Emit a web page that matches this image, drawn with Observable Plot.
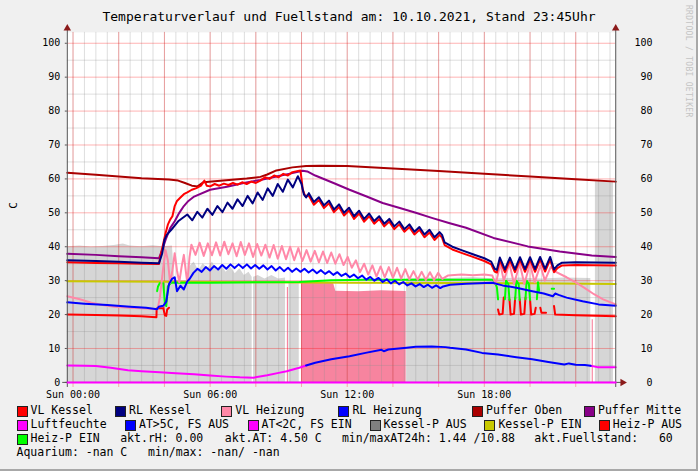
<!DOCTYPE html>
<html><head><meta charset="utf-8">
<script src="https://cdn.jsdelivr.net/npm/d3@7"></script>
<script src="https://cdn.jsdelivr.net/npm/@observablehq/plot@0.6"></script>
<style>
body{margin:0;background:#fff}
#wrap{position:relative;width:698px;height:471px;background:#f0f0f0;font-family:"DejaVu Sans Mono",monospace;color:#000;overflow:hidden;box-sizing:border-box;border-right:2px solid #a8a8a8;border-bottom:2px solid #a8a8a8}
#chart{position:absolute;left:0;top:0}
.t{position:absolute;white-space:pre;line-height:1}
#title{left:0;width:698px;top:10px;text-align:center;font-size:13px}
#ylab{left:10px;top:200px;font-size:11px;transform:rotate(-90deg);transform-origin:center}
#rrd{left:684px;top:5px;font-size:8px;color:#c4c4c4;writing-mode:vertical-rl;letter-spacing:0.3px}
.lg{font-size:11.5px}
.box{position:absolute;width:9px;height:9px;border:1px solid #222;box-sizing:content-box}
</style></head>
<body>
<div id="wrap">
<div id="chart"></div>
<div class="t" id="title">Temperaturverlauf und Fuellstand am: 10.10.2021, Stand 23:45Uhr</div>
<div class="t" id="ylab">C</div>
<div class="t" id="rrd">RRDTOOL / TOBI OETIKER</div>
<div id="legend"></div>
</div>
<script>
// ---- data: [hour, value] ; hours relative to Sun 00:00 ----
const pufferOben = [[-0.25,61.8],[1,61.2],[2,60.7],[3,60.2],[4.2,59.8],[4.6,59.5],[4.9,58.8],[5.2,58.0],[5.45,57.8],[5.7,59.0],[6.7,59.6],[7.6,60.1],[8.2,60.6],[8.5,61.3],[8.9,62.5],[9.6,63.4],[10.2,63.8],[10.8,63.9],[12,63.8],[14,63.1],[16,62.3],[18,61.5],[20,60.7],[22,59.9],[23.75,59.2]];
const pufferMitte = [[-0.25,37.9],[1,37.6],[2,37.2],[3,36.9],[3.76,36.6],[3.9,39],[4.05,42],[4.25,45.5],[4.45,47.5],[4.65,50],[4.85,52],[5.05,53.5],[5.3,54.8],[6.0,56.8],[6.74,57.7],[7.47,58.8],[8.2,59.7],[8.9,60.7],[9.6,61.7],[10.05,62.4],[10.25,62.2],[10.6,61],[11.4,58.8],[12.1,56.8],[12.85,54.8],[13.55,52.9],[14.3,51.4],[15.0,50.0],[15.7,48.5],[16.45,47],[17.2,45.6],[18.4,42.6],[19.9,40.1],[21.3,38.6],[22.7,37.4],[23.75,37.0]];
const vlKessel = [[-0.25,35.4],[1,35.2],[2,35.1],[3,35.0],[3.76,34.9],[3.85,38],[3.95,41],[4.05,44],[4.15,46.5],[4.25,48],[4.35,49],[4.45,52],[4.55,53.5],[4.7,54.5],[4.85,55.5],[5.0,56],[5.2,56.8],[5.4,57.3],[5.6,58],[5.75,59.5],[5.85,58],[6.0,57.8],[6.2,58.5],[6.4,58],[6.6,58.6],[6.8,58.2],[7.0,58.8],[7.2,58.3],[7.4,59.0],[7.6,58.5],[7.8,59.2],[8.0,58.8],[8.2,59.5],[8.4,60.5],[8.6,60],[8.8,61],[9.0,60.5],[9.2,61.5],[9.4,61],[9.6,62],[9.8,62.3],[9.95,62.5],[10.0,60],[10.05,57],[10.15,55.0],[10.32,55.0],[10.54,52.4],[10.76,53.8],[10.98,51.4],[11.2,52.8],[11.42,50.2],[11.64,51.7],[11.86,49.2],[12.08,50.7],[12.3,48.2],[12.52,49.8],[12.74,47.4],[12.96,49.0],[13.18,46.8],[13.4,48.2],[13.62,46.0],[13.84,47.4],[14.06,45.2],[14.28,46.6],[14.5,44.4],[14.72,45.8],[14.94,43.6],[15.16,45.0],[15.38,42.8],[15.6,44.2],[15.82,42.0],[16.04,43.5],[16.15,42.7],[16.26,40.5],[16.6,39.2],[17.0,38.2],[17.5,37.0],[18.0,35.8],[18.3,34.8],[18.45,32.7],[18.55,32.4],[18.68,36.0],[18.9,32.5],[19.12,36.0],[19.34,32.5],[19.56,36.1],[19.78,32.6],[20.0,36.1],[20.22,32.6],[20.44,36.2],[20.66,32.7],[20.88,36.2],[21.05,32.5],[21.2,33.7],[21.4,34.5],[22,34.6],[23.75,34.5]];
const rlKessel = [[-0.25,36.0],[1,35.8],[2,35.6],[3,35.3],[3.76,35.1],[3.9,38],[4.0,42],[4.1,43.5],[4.3,45],[4.6,47.5],[5.0,49.5],[5.22,47.8],[5.44,50.3],[5.66,48.6],[5.88,51.2],[6.1,49.4],[6.32,52.0],[6.54,50.2],[6.76,53.0],[6.98,51.2],[7.2,54.0],[7.42,52.0],[7.64,55.0],[7.86,52.8],[8.08,56.0],[8.3,53.8],[8.52,57.2],[8.74,55.0],[8.96,58.5],[9.18,56.2],[9.4,59.8],[9.62,57.5],[9.84,60.8],[10.0,58.5],[10.1,55.5],[10.2,54.5],[10.32,55.8],[10.54,53.2],[10.76,54.6],[10.98,52.2],[11.2,53.6],[11.42,51.0],[11.64,52.5],[11.86,50.0],[12.08,51.5],[12.3,49.0],[12.52,50.6],[12.74,48.2],[12.96,49.8],[13.18,47.6],[13.4,49.0],[13.62,46.8],[13.84,48.2],[14.06,46.0],[14.28,47.4],[14.5,45.2],[14.72,46.6],[14.94,44.4],[15.16,45.8],[15.38,43.6],[15.6,45.0],[15.82,42.8],[16.04,44.3],[16.15,43.5],[16.26,41.3],[16.6,40.0],[17.0,39.0],[17.5,37.8],[18.0,36.6],[18.3,35.6],[18.45,33.5],[18.55,33.2],[18.68,36.8],[18.9,33.3],[19.12,36.8],[19.34,33.3],[19.56,36.9],[19.78,33.4],[20.0,36.9],[20.22,33.4],[20.44,37.0],[20.66,33.5],[20.88,37.0],[21.05,33.3],[21.2,34.5],[21.4,35.3],[22,35.4],[23.75,35.3]];
const vlHeizung = [[-0.25,25.4],[0.3,24.5],[0.8,23.5],[1.3,22.8],[1.8,22.3],[2.5,22.0],[3.2,21.8],[3.7,21.6],[3.8,25],[3.95,34],[4.05,39],[4.15,36],[4.25,29.3],[4.35,33],[4.45,38.1],[4.55,33],[4.65,29.5],[4.75,34],[4.85,37.6],[4.95,32],[5.0,29.5],[5.1,37],[5.18,40.6],[5.36,37.6],[5.54,41.2],[5.72,37.3],[5.9,41.0],[6.08,37.5],[6.26,41.3],[6.44,37.4],[6.62,41.5],[6.8,37.8],[6.98,41.0],[7.16,37.2],[7.34,41.4],[7.52,37.6],[7.7,41.0],[7.88,37.0],[8.06,40.8],[8.24,37.4],[8.42,40.6],[8.6,36.8],[8.78,40.5],[8.96,36.5],[9.14,40.2],[9.32,36.3],[9.5,40.0],[9.68,36.0],[9.86,39.6],[10.04,35.8],[10.22,39.0],[10.4,35.6],[10.58,38.8],[10.76,35.4],[10.94,38.6],[11.12,35.2],[11.3,38.3],[11.48,35.0],[11.66,37.8],[11.84,34.6],[12.02,37.0],[12.2,33.8],[12.38,36.0],[12.56,32.5],[12.74,35.0],[12.92,31.8],[13.1,34.5],[13.28,31.2],[13.46,34.2],[13.64,31.0],[13.82,34.0],[14.0,30.8],[14.18,33.8],[14.36,30.6],[14.54,33.4],[14.72,30.4],[14.9,32.8],[15.08,30.3],[15.26,32.6],[15.44,30.2],[15.62,32.5],[15.8,30.2],[15.98,32.3],[16.16,30.5],[16.4,31.5],[17.0,31.8],[17.5,31.6],[18.0,31.8],[18.35,31.5],[18.5,29],[18.7,35],[18.85,30],[19.1,35],[19.3,29],[19.55,35],[19.75,29],[20.0,35],[20.2,29.5],[20.45,34.5],[20.65,30],[20.9,34],[21.15,32.5],[21.6,31],[22.0,29.5],[22.4,27.8],[22.8,26],[23.2,24.5],[23.75,23.0]];
const rlHeizung = [[-0.25,23.6],[0.5,23.2],[1.5,22.8],[2.5,22.3],[3.2,22.0],[3.68,21.6],[3.75,22.3],[3.95,22.6],[4.08,23.8],[4.2,29],[4.33,30.5],[4.45,31],[4.55,26.9],[4.7,28.5],[4.85,27.4],[5.0,29.8],[5.1,30.5],[5.27,32.3],[5.45,33.5],[5.63,32.6],[5.81,34.0],[5.99,33.0],[6.17,34.3],[6.35,33.3],[6.53,34.6],[6.71,33.5],[6.89,34.8],[7.07,33.7],[7.25,34.8],[7.43,33.7],[7.61,34.8],[7.79,33.6],[7.97,34.6],[8.15,33.5],[8.33,34.5],[8.51,33.3],[8.69,34.3],[8.87,33.0],[9.05,34.0],[9.23,32.8],[9.41,33.8],[9.59,32.6],[9.77,33.6],[9.95,32.6],[10.13,33.5],[10.31,32.4],[10.49,33.3],[10.67,32.2],[10.85,33.1],[11.03,32.0],[11.21,32.8],[11.39,31.7],[11.57,32.5],[11.75,31.4],[11.93,32.1],[12.11,31.0],[12.29,31.8],[12.47,30.7],[12.65,31.5],[12.83,30.3],[13.01,31.1],[13.19,30.0],[13.37,30.8],[13.55,29.6],[13.73,30.4],[13.91,29.2],[14.09,30.0],[14.27,28.9],[14.45,29.6],[14.63,28.6],[14.81,29.2],[14.99,28.3],[15.17,29.0],[15.35,28.1],[15.53,28.8],[15.71,27.9],[15.89,28.6],[16.07,27.8],[16.2,28.3],[16.5,28.8],[17.2,29.1],[18.35,29.4],[18.8,28.6],[19.4,27.9],[20.1,26.9],[20.6,26.2],[21.0,25.4],[21.1,26.2],[21.25,25.8],[21.6,25.0],[22.3,23.9],[23.0,23.0],[23.75,22.6]];
const kesselPEin = [[-0.25,29.8],[4,29.7],[8,29.5],[12,29.4],[16,29.3],[20,29.2],[23.75,29.0]];
const heizPEin = [[3.68,26.9],[3.72,28.3],[3.8,29.3],[3.95,29.2],[4.02,23.4],[4.08,22.5],[4.15,28.3],[4.3,29.4],[6,29.4],[9.9,29.6],[11.3,30.1],[12.8,30.3],[18.35,30.3],[18.45,29.8],[18.55,28],[18.6,24.5],[18.61,null],[18.9,24.5],[18.95,30],[19.05,29],[19.1,24.3],[19.11,null],[19.35,24.5],[19.4,30],[19.5,29],[19.55,24.3],[19.56,null],[19.8,24.5],[19.85,30],[19.95,29],[20.0,24.3],[20.01,null],[20.3,24.5],[20.35,29.5],[20.4,27],[20.41,null],[20.95,27.6],[21.05,27.6]];
const heizPAus = [[-0.25,20.0],[1,19.9],[2,19.7],[3,19.5],[3.65,19.2],[3.66,21.8],[3.95,21.9],[4.02,19.8],[4.08,19.6],[4.12,21.5],[4.2,22],[4.21,null],[18.6,21.5],[18.65,20],[18.8,20.2],[18.85,25],[18.86,null],[19.1,24.5],[19.15,20],[19.3,20.2],[19.35,25],[19.36,null],[19.55,24.5],[19.6,20],[19.75,20.2],[19.8,25],[19.81,null],[20.0,24.5],[20.05,20],[20.2,20.2],[20.25,22],[20.26,null],[20.45,22],[20.5,20.5],[20.7,20.5],[20.71,null],[21.05,22.5],[21.1,20],[22,19.8],[23.75,19.5]];
const atWarm = [[10.2,5.0],[10.6,5.8],[11.3,6.8],[12.1,7.7],[12.8,8.7],[13.5,9.6],[13.6,9.2],[13.8,9.7],[14.6,10.2],[15.0,10.5],[15.7,10.6],[16.3,10.4],[16.5,10.2],[17.2,9.7],[17.9,8.7],[18.6,8.2],[19.4,7.4],[20.1,6.8],[20.8,6.0],[21.5,5.3],[21.7,5.6],[22.0,5.2],[22.4,5.1],[22.65,4.9]];
const atCold = [[-0.25,5.0],[0.5,4.9],[1.0,4.8],[1.65,4.3],[2.4,3.6],[3.0,3.3],[3.8,3.0],[4.5,2.7],[5.3,2.4],[6.0,2.0],[6.7,1.7],[7.3,1.5],[7.9,1.4],[8.5,2.1],[9.0,2.8],[9.35,3.3],[9.9,4.3],[10.2,5.0],[10.21,null],[22.65,4.9],[22.95,4.5],[23.75,4.5]];
const luftfeuchte = [[-0.25,0],[23.75,0]];
const fuellGrau = [[-0.25,40.0],[0.3,40.2],[0.8,39.9],[1.3,40.1],[1.8,40.4],[2.2,40.8],[2.5,40.2],[3.0,40.0],[3.5,40.3],[3.9,40.0],[4.35,40.2],[4.45,30],[5.05,30],[5.1,34],[5.3,35.5],[5.5,33],[5.7,35],[5.9,33.5],[6.1,35.5],[6.3,33],[6.5,34.5],[6.7,32.5],[6.9,34],[7.1,32],[7.3,33.5],[7.5,31.5],[7.7,32.5],[7.84,31],[7.85,null],[7.9,31],[8.1,31.5],[8.4,30.5],[8.7,31.5],[9.0,30.5],[9.3,30.8],[9.34,null],[9.45,29.4],[9.9,29.4],[9.92,null],[14.6,30.5],[15.5,30.8],[16.5,30.6],[17.5,30.9],[18.5,30.5],[19.5,30.8],[20.5,30.5],[21.5,30.8],[22.66,30.6],[22.67,null],[22.86,59.2],[23.65,59.2],[23.66,null]];
const fuellRosa = [[9.37,null],[9.38,28],[9.43,28],[9.44,null],[10.0,29.3],[10.6,29.2],[11.4,29.3],[11.5,26.9],[12.5,26.7],[13.5,27.0],[14.58,26.8],[14.59,null],[22.71,null],[22.72,18.5],[22.77,18.5],[22.78,null]];

const legendRow1 = ["VL Kessel","RL Kessel","VL Heizung","RL Heizung","Puffer Oben","Puffer Mitte"];
const legendCol1 = ["#ff0000","#000080","#ff88a8","#0000ff","#aa0000","#880088"];
const legendRow2 = ["Luftfeuchte","AT>5C, FS AUS","AT<2C, FS EIN","Kessel-P AUS","Kessel-P EIN","Heiz-P AUS"];
const legendCol2 = ["#ff00ff","#0000ff","#ff00ff","#808080","#c8c800","#ff0000"];
const legendRow3 = ["Heiz-P EIN"];
const legendCol3 = ["#00ff00"];
const statusTexts = ["akt.rH: 0.00","akt.AT: 4.50 C","min/maxAT24h: 1.44 /10.88","akt.Fuellstand:   60"];
const aquariumText = "Aquarium: -nan C   min/max: -nan/ -nan";
const xTickHours = [0,6,12,18];
const xTickLabels = ["Sun 00:00","Sun 06:00","Sun 12:00","Sun 18:00"];

// ---- chart ----
const X0 = -0.25, X1 = 23.75, YMAX = 103.2;
const rows = a => a.map(([h,v]) => ({h, v}));
const ln = (a, stroke, w=2) => Plot.line(rows(a), {x:"h", y:"v", stroke, strokeWidth:w, strokeLinejoin:"round"});
const ar = (a, fill) => Plot.areaY(rows(a), {x:"h", y1:0, y2:"v", fill});

const chart = Plot.plot({
  width: 698, height: 400,
  marginLeft: 67, marginRight: 81, marginTop: 32, marginBottom: 17,
  x: {domain:[X0,X1], label:null},
  y: {domain:[0,YMAX], label:null},
  style: {background:"transparent", fontFamily:"DejaVu Sans Mono", fontSize:"10px", overflow:"visible", color:"#000"},
  marks: [
    Plot.frame({fill:"white", stroke:null}),
    ar(fuellGrau, "#d6d6d6"),
    ar(fuellRosa, "#f7849f"),
    Plot.gridX({ticks:d3.range(0,24,0.5), stroke:"#909090", strokeOpacity:0.3}),
    Plot.gridY({ticks:d3.range(5,101,10), stroke:"#909090", strokeOpacity:0.3}),
    Plot.gridX({ticks:d3.range(0,24,2), stroke:"#ff0000", strokeOpacity:0.3, y1:-1.5, y2:YMAX}),
    Plot.gridY({ticks:d3.range(10,101,10), stroke:"#ff0000", strokeOpacity:0.3}),
    ln(kesselPEin, "#c8c800"),
    ln(heizPAus, "#ff0000"),
    ln(heizPEin, "#00ff00"),
    ln(vlHeizung, "#ff88a8"),
    ln(rlHeizung, "#0000ff"),
    ln(pufferMitte, "#880088"),
    ln(pufferOben, "#aa0000"),
    ln(vlKessel, "#ff0000"),
    ln(rlKessel, "#000080"),
    ln(atCold, "#ff00ff"),
    ln(atWarm, "#0000ff"),
    Plot.ruleX([X0, X1], {y1:-1.5, y2:YMAX+1, stroke:"#555", strokeWidth:1}),
    Plot.ruleY([0], {x1:X0-0.2, x2:X1+0.3, stroke:"#555", strokeWidth:1}),
    ln(luftfeuchte, "#ff00ff"),
    Plot.dot([X0, X1], {x:d=>d, y:YMAX+1.2, symbol:"triangle", r:2.8, fill:"#8b1a1a", stroke:null}),
    Plot.dot([0], {x:X1+0.3, y:0, symbol:"triangle", r:2.8, rotate:90, fill:"#8b1a1a", stroke:null}),
    Plot.axisY({anchor:"left", ticks:d3.range(0,101,10), tickSize:2, tickPadding:5, stroke:"#555"}),
    Plot.axisY({anchor:"right", ticks:d3.range(0,101,10), tickSize:0, tickPadding:37, textAnchor:"end"}),
    Plot.axisX({ticks:xTickHours, tickFormat:(d,i)=>xTickLabels[i], tickSize:0, tickPadding:9})
  ]
});
document.getElementById("chart").appendChild(chart);

// ---- legend ----
const lg = document.getElementById("legend");
function item(label, color, bx, y){
  if(color){
    const b = document.createElement("div"); b.className="box";
    b.style.left = bx+"px"; b.style.top = (y-5)+"px"; b.style.background = color;
    lg.appendChild(b);
  }
  const t = document.createElement("div"); t.className="t lg"; t.textContent = label;
  t.style.left = (color ? bx+14 : bx)+"px"; t.style.top = (y-6)+"px";
  lg.appendChild(t);
}
const bx1 = [16.5,115,221.3,338.4,472,584];
const bx2 = [16.5,125,247.6,369.5,484.4,598.8];
const sx3 = [120.2,224.8,341.9,534.3];
const rowY = [411,425,439,453];
legendRow1.forEach((l,i)=>item(l, legendCol1[i], bx1[i], rowY[0]));
legendRow2.forEach((l,i)=>item(l, legendCol2[i], bx2[i], rowY[1]));
legendRow3.forEach((l,i)=>item(l, legendCol3[i], 16.5, rowY[2]));
statusTexts.forEach((l,i)=>item(l, null, sx3[i], rowY[2]));
item(aquariumText, null, 16.5, rowY[3]);
</script>
</body></html>
